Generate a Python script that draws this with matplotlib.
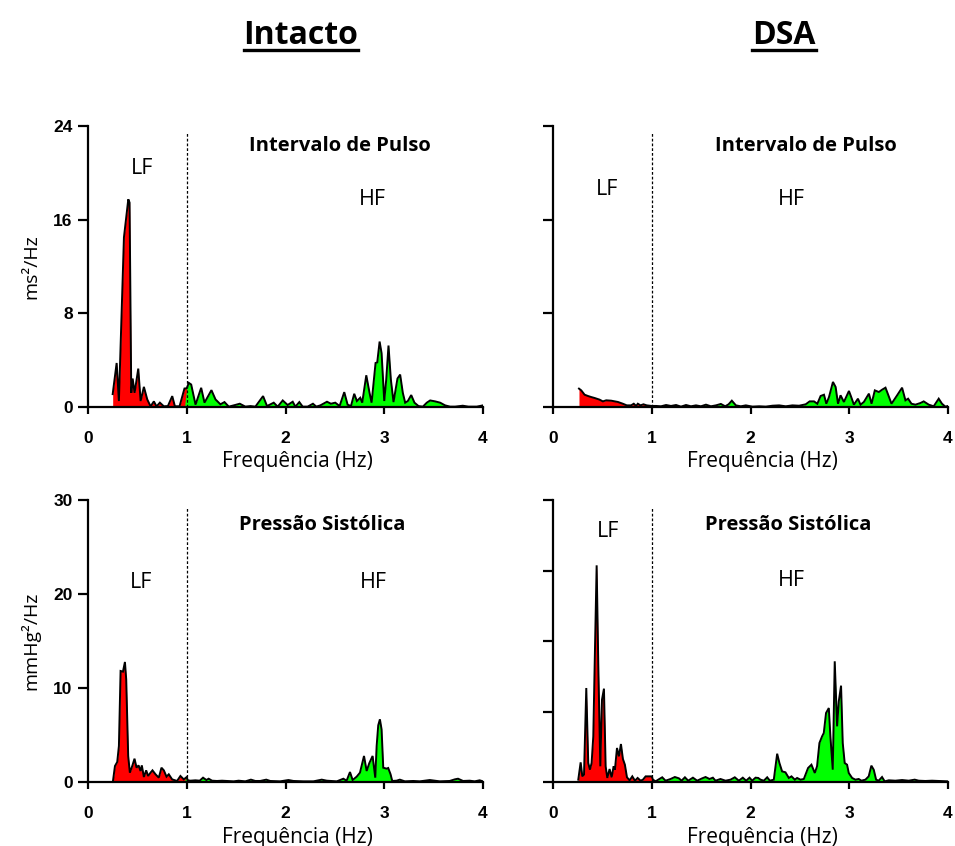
import numpy as np
import matplotlib
matplotlib.use("Agg")
import matplotlib.pyplot as plt
from matplotlib.lines import Line2D

# ---- spectral power, Intacto / Intervalo de Pulso (ms^2/Hz) ----
ip_int_freq = [0.25, 0.290, 0.313, 0.364, 0.408, 0.421, 0.438, 0.452, 0.472, 0.509, 0.533, 0.566,
               0.600, 0.634, 0.667, 0.694, 0.728, 0.768, 0.809, 0.853, 0.880, 0.927, 0.977, 1.0,
               1.021, 1.045, 1.089, 1.146, 1.180, 1.250, 1.291, 1.341, 1.382, 1.426, 1.476, 1.537,
               1.594, 1.645, 1.695, 1.773, 1.813, 1.881, 1.921, 1.972, 2.022, 2.073, 2.100, 2.140,
               2.174, 2.224, 2.278, 2.312, 2.353, 2.420, 2.460, 2.504, 2.548, 2.595, 2.629, 2.663,
               2.696, 2.723, 2.757, 2.777, 2.818, 2.851, 2.872, 2.912, 2.929, 2.953, 2.973, 3.000,
               3.020, 3.043, 3.067, 3.094, 3.118, 3.134, 3.161, 3.188, 3.212, 3.239, 3.273, 3.306,
               3.347, 3.391, 3.431, 3.465, 3.515, 3.566, 3.616, 3.667, 3.718, 3.795, 3.852, 3.937, 4.0]
ip_int_pow = [1.10, 3.76, 0.51, 14.49, 17.74, 17.46, 1.21, 2.43, 1.21, 3.28, 0.51, 1.72,
              0.65, 0.05, 0.48, 0.05, 0.37, 0.06, 0.08, 0.93, 0.06, 0.06, 1.58, 1.60,
              2.06, 1.92, 0.20, 1.64, 0.37, 1.44, 0.65, 0.23, 0.42, 0.03, 0.14, 0.28,
              0.03, 0.08, 0.03, 0.93, 0.08, 0.37, 0.03, 0.56, 0.17, 0.45, 0.03, 0.42,
              0.03, 0.03, 0.28, 0.03, 0.14, 0.45, 0.28, 0.37, 0.08, 1.27, 0.20, 0.08,
              1.13, 0.51, 0.79, 0.37, 2.71, 1.21, 0.37, 3.76, 3.81, 5.59, 4.60, 0.51,
              2.34, 5.25, 2.34, 0.42, 1.64, 2.43, 2.77, 1.21, 0.37, 0.51, 1.02, 0.37,
              0.08, 0.03, 0.37, 0.56, 0.48, 0.37, 0.14, 0.03, 0.03, 0.11, 0.03, 0.03, 0.14]

# ---- DSA / Intervalo de Pulso ----
ip_dsa_freq = [0.263, 0.286, 0.320, 0.354, 0.387, 0.421, 0.471, 0.505, 0.539, 0.589, 0.657, 0.707,
               0.747, 0.791, 0.818, 0.842, 0.859, 0.886, 0.916, 0.949, 1.0, 1.044, 1.094, 1.145,
               1.195, 1.246, 1.296, 1.347, 1.397, 1.448, 1.498, 1.549, 1.599, 1.650, 1.700, 1.744,
               1.778, 1.811, 1.852, 1.902, 1.953, 2.020, 2.088, 2.155, 2.222, 2.290, 2.357, 2.424,
               2.492, 2.559, 2.599, 2.643, 2.677, 2.710, 2.744, 2.768, 2.795, 2.835, 2.862, 2.886,
               2.912, 2.946, 2.997, 3.020, 3.047, 3.088, 3.114, 3.148, 3.199, 3.226, 3.259, 3.300,
               3.333, 3.367, 3.394, 3.428, 3.485, 3.535, 3.569, 3.596, 3.630, 3.670, 3.721, 3.754,
               3.805, 3.855, 3.906, 3.939, 3.973, 4.0]
ip_dsa_pow = [1.57, 1.42, 1.05, 0.94, 0.85, 0.77, 0.63, 0.48, 0.57, 0.54, 0.43, 0.28,
              0.14, 0.14, 0.28, 0.09, 0.28, 0.14, 0.23, 0.14, 0.09, 0.09, 0.06, 0.17,
              0.09, 0.17, 0.03, 0.17, 0.06, 0.14, 0.06, 0.20, 0.06, 0.14, 0.26, 0.06,
              0.23, 0.54, 0.14, 0.06, 0.14, 0.03, 0.06, 0.03, 0.11, 0.14, 0.06, 0.14,
              0.11, 0.23, 0.48, 0.48, 0.28, 0.94, 1.05, 0.28, 0.85, 2.14, 1.71, 0.28,
              1.00, 0.43, 1.37, 0.85, 0.20, 0.71, 0.20, 0.43, 1.14, 0.28, 1.42, 1.28,
              1.48, 1.65, 1.05, 0.28, 1.00, 1.65, 0.57, 0.71, 0.28, 0.20, 0.34, 0.48,
              0.20, 0.06, 0.71, 0.28, 0.03, 0.09]

# ---- Intacto / Pressão Sistólica (mmHg^2/Hz) ----
ps_int_freq = [0.253, 0.273, 0.296, 0.313, 0.330, 0.354, 0.374, 0.387, 0.407, 0.424, 0.448, 0.471,
               0.492, 0.512, 0.532, 0.545, 0.566, 0.589, 0.609, 0.633, 0.653, 0.684, 0.717, 0.744,
               0.768, 0.795, 0.818, 0.852, 0.902, 0.936, 0.970, 1.0, 1.010, 1.037, 1.088, 1.131,
               1.165, 1.199, 1.222, 1.256, 1.306, 1.357, 1.407, 1.475, 1.525, 1.593, 1.650, 1.694,
               1.744, 1.805, 1.845, 1.946, 2.030, 2.081, 2.182, 2.283, 2.367, 2.418, 2.519, 2.586,
               2.619, 2.653, 2.680, 2.721, 2.754, 2.795, 2.822, 2.848, 2.882, 2.909, 2.923, 2.939,
               2.956, 2.973, 2.990, 3.024, 3.040, 3.064, 3.081, 3.125, 3.158, 3.209, 3.293, 3.360,
               3.461, 3.562, 3.663, 3.714, 3.747, 3.798, 3.865, 3.916, 3.966, 4.0]
ps_int_pow = [0.11, 1.70, 2.13, 3.83, 11.81, 11.74, 12.77, 10.92, 2.77, 0.99, 1.70, 2.48,
              1.52, 1.77, 1.17, 1.77, 0.53, 1.24, 0.64, 0.99, 1.24, 0.82, 0.46, 1.52,
              1.24, 0.57, 0.82, 0.28, 0.11, 0.64, 0.28, 0.53, 0.18, 0.14, 0.18, 0.14,
              0.46, 0.21, 0.35, 0.14, 0.11, 0.14, 0.11, 0.07, 0.14, 0.07, 0.25, 0.11,
              0.11, 0.25, 0.11, 0.07, 0.21, 0.11, 0.07, 0.07, 0.25, 0.14, 0.07, 0.35,
              0.14, 1.06, 0.21, 0.57, 0.99, 2.77, 1.17, 1.99, 2.77, 0.46, 3.83, 6.03,
              6.67, 5.60, 1.52, 1.42, 1.49, 0.82, 0.11, 0.14, 0.25, 0.07, 0.11, 0.07,
              0.21, 0.07, 0.11, 0.28, 0.35, 0.11, 0.14, 0.07, 0.18, 0.07]

# ---- DSA / Pressão Sistólica ----
ps_dsa_freq = [0.256, 0.280, 0.297, 0.314, 0.337, 0.357, 0.374, 0.391, 0.408, 0.425, 0.442, 0.459,
               0.479, 0.496, 0.516, 0.533, 0.550, 0.573, 0.594, 0.614, 0.627, 0.648, 0.668, 0.688,
               0.708, 0.728, 0.749, 0.776, 0.803, 0.830, 0.857, 0.887, 0.911, 0.938, 1.0, 1.012,
               1.039, 1.066, 1.106, 1.140, 1.191, 1.234, 1.275, 1.302, 1.336, 1.369, 1.417, 1.460,
               1.511, 1.545, 1.585, 1.619, 1.646, 1.696, 1.747, 1.798, 1.841, 1.882, 1.922, 1.956,
               1.990, 2.017, 2.051, 2.078, 2.101, 2.135, 2.169, 2.196, 2.236, 2.270, 2.293, 2.320,
               2.354, 2.388, 2.415, 2.449, 2.472, 2.506, 2.540, 2.583, 2.617, 2.651, 2.674, 2.698,
               2.725, 2.742, 2.765, 2.793, 2.809, 2.833, 2.853, 2.877, 2.894, 2.917, 2.934, 2.954,
               2.978, 2.995, 3.029, 3.062, 3.096, 3.123, 3.164, 3.197, 3.224, 3.248, 3.272, 3.298,
               3.332, 3.359, 3.400, 3.467, 3.535, 3.602, 3.663, 3.703, 3.771, 3.838, 3.906, 4.0]
ps_dsa_pow = [0.25, 2.09, 0.60, 0.78, 10.00, 2.02, 1.31, 2.02, 4.86, 14.08, 23.05, 12.30,
              1.67, 8.76, 9.93, 1.67, 0.43, 1.38, 0.50, 1.67, 1.31, 3.62, 2.73, 4.04,
              2.45, 1.84, 0.50, 0.18, 0.60, 0.14, 0.43, 0.14, 0.25, 0.60, 0.60, 0.25,
              0.07, 0.25, 0.50, 0.14, 0.32, 0.53, 0.39, 0.14, 0.50, 0.14, 0.46, 0.14,
              0.39, 0.53, 0.32, 0.46, 0.14, 0.32, 0.14, 0.25, 0.50, 0.14, 0.46, 0.14,
              0.46, 0.14, 0.46, 0.43, 0.25, 0.14, 0.50, 0.14, 0.25, 3.01, 2.02, 1.13,
              1.03, 0.43, 0.60, 0.25, 0.43, 0.25, 0.32, 1.49, 1.84, 0.96, 1.67, 4.15,
              4.86, 5.21, 7.34, 7.87, 4.86, 1.31, 12.84, 5.92, 8.58, 10.25, 4.15, 2.02,
              1.84, 0.96, 0.43, 0.25, 0.32, 0.14, 0.25, 0.60, 1.74, 1.31, 0.25, 0.14,
              0.53, 0.07, 0.18, 0.14, 0.21, 0.14, 0.25, 0.14, 0.11, 0.14, 0.11, 0.07]

col_titles = ["Intacto", "DSA"]
row_titles = ["Intervalo de Pulso", "Pressão Sistólica"]
row_units = ["ms²/Hz", "mmHg²/Hz"]
x_ticks = [0, 1, 2, 3, 4]
ip_ticks = [0, 8, 16, 24]
ps_ticks_left = [0, 10, 20, 30]
ps_ticks_right = [0, 7.5, 15, 22.5, 30]
band_edge = 1.0

LF_COLOR = "#ff0000"
HF_COLOR = "#00ff00"
TEXT_FONT = ["Open Sans", "DejaVu Sans"]
TICK_FONT = ["Liberation Sans", "DejaVu Sans"]

fig = plt.figure(figsize=(9.55, 8.46), dpi=100)
W, H = 955, 846


def add_axes_px(left, top, right, bottom):
    return fig.add_axes([left / W, 1 - bottom / H, (right - left) / W, (bottom - top) / H])


ax_ip_int = add_axes_px(88, 126, 483, 407)
ax_ip_dsa = add_axes_px(553, 126, 948, 407)
ax_ps_int = add_axes_px(88, 500, 483, 782)
ax_ps_dsa = add_axes_px(553, 500, 948, 782)

panels = [
    (ax_ip_int, ip_int_freq, ip_int_pow, 24, ip_ticks, True, 0),
    (ax_ip_dsa, ip_dsa_freq, ip_dsa_pow, 24, ip_ticks, False, 0),
    (ax_ps_int, ps_int_freq, ps_int_pow, 30, ps_ticks_left, True, 1),
    (ax_ps_dsa, ps_dsa_freq, ps_dsa_pow, 30, ps_ticks_right, False, 1),
]

# label positions (data coords): row title, LF, HF
label_pos = {
    ax_ip_int: ((2.55, 22.3), (0.55, 20.4), (2.88, 17.7)),
    ax_ip_dsa: ((2.56, 22.3), (0.55, 18.6), (2.41, 17.7)),
    ax_ps_int: ((2.37, 27.3), (0.54, 21.2), (2.89, 21.2)),
    ax_ps_dsa: ((2.38, 27.3), (0.56, 26.6), (2.41, 21.4)),
}

for ax, fr, pw, ymax, yt, ylab, row in panels:
    fr = np.asarray(fr)
    pw = np.asarray(pw)
    ax.fill_between(fr, 0, pw, where=fr <= band_edge, color=LF_COLOR, lw=0, interpolate=True)
    ax.fill_between(fr, 0, pw, where=fr >= band_edge, color=HF_COLOR, lw=0, interpolate=True)
    ax.plot(fr, pw, color="black", lw=1.4, solid_joinstyle="miter")
    ax.axvline(band_edge, ymin=0, ymax=0.975, color="black", lw=0.9, ls=(0, (2.2, 1.6)))

    ax.set_xlim(0, 4)
    ax.set_ylim(0, ymax)
    ax.set_xticks(x_ticks)
    ax.set_yticks(yt)
    for s in ("top", "right"):
        ax.spines[s].set_visible(False)
    for s in ("left", "bottom"):
        ax.spines[s].set_linewidth(1.6)
    ax.tick_params(axis="x", direction="out", length=5, width=1.6, pad=12)
    ax.tick_params(axis="y", direction="out", length=7, width=1.6, pad=4)
    for t in ax.get_xticklabels() + ax.get_yticklabels():
        t.set_fontfamily(TICK_FONT)
        t.set_fontweight("bold")
        t.set_fontsize(12.5)
    if not ylab:
        ax.set_yticklabels([])
    else:
        ax.set_ylabel(row_units[row], family=TEXT_FONT, fontsize=14, labelpad=9)
    ax.set_xlabel("Frequência (Hz)", family=TEXT_FONT, fontsize=15)
    ax.xaxis.set_label_coords(0.53, -0.158)

    (tx, ty), (lx, ly), (hx, hy) = label_pos[ax]
    ax.text(tx, ty, row_titles[row], ha="center", va="center", family=TEXT_FONT,
            fontweight="bold", fontsize=14.5)
    ax.text(lx, ly, "LF", ha="center", va="center", family=TEXT_FONT, fontsize=15.5)
    ax.text(hx, hy, "HF", ha="center", va="center", family=TEXT_FONT, fontsize=15.5)

# underlined column headings
titles = []
for name, cx in zip(col_titles, [301 / W, 784 / W]):
    titles.append(fig.text(cx, 1 - 44 / H, name, ha="center", va="baseline", family=TEXT_FONT,
                           fontweight="bold", fontsize=23))

fig.canvas.draw()
renderer = fig.canvas.get_renderer()
for t in titles:
    bb = t.get_window_extent(renderer)
    y = 1 - 50.5 / H
    fig.add_artist(Line2D([bb.x0 / W, bb.x1 / W], [y, y], color="black", lw=2.4,
                          transform=fig.transFigure))

fig.savefig("out.png", dpi=100)
